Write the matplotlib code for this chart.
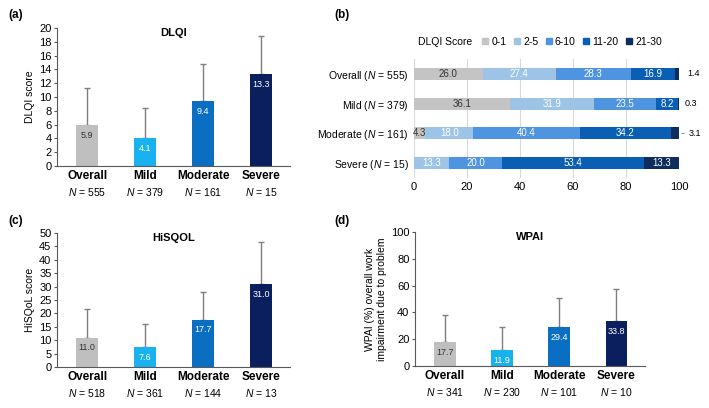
import matplotlib
matplotlib.use('Agg')
import matplotlib.pyplot as plt
from matplotlib.lines import Line2D
import numpy as np

plt.rcParams['font.family'] = ['Liberation Sans', 'DejaVu Sans']
plt.rcParams['mathtext.fontset'] = 'custom'
plt.rcParams['mathtext.rm'] = 'Liberation Sans'
plt.rcParams['mathtext.it'] = 'Liberation Sans:italic'

# data
groups = ['Overall', 'Mild', 'Moderate', 'Severe']
group_colors = ['#bfbfbf', '#19b2f0', '#0a6fc2', '#0b1f5e']

dlqi_mean = [5.9, 4.1, 9.4, 13.3]
dlqi_sd = [5.4, 4.3, 5.4, 5.5]
dlqi_n = [555, 379, 161, 15]

hisqol_mean = [11.0, 7.6, 17.7, 31.0]
hisqol_sd = [10.6, 8.4, 10.1, 15.5]
hisqol_n = [518, 361, 144, 13]

wpai_mean = [17.7, 11.9, 29.4, 33.8]
wpai_sd = [20.3, 17.1, 21.6, 23.4]
wpai_n = [341, 230, 101, 10]

score_bins = ['0-1', '2-5', '6-10', '11-20', '21-30']
bin_colors = ['#c4c4c4', '#9dc3e6', '#4f94e0', '#0a5fb4', '#0d2d5e']
dist_n = [555, 379, 161, 15]
dist = {
    '0-1': [26.0, 36.1, 4.3, 0.0],
    '2-5': [27.4, 31.9, 18.0, 13.3],
    '6-10': [28.3, 23.5, 40.4, 20.0],
    '11-20': [16.9, 8.2, 34.2, 53.4],
    '21-30': [1.4, 0.3, 3.1, 13.3],
}

W, H = 709, 408
fig = plt.figure(figsize=(W / 100, H / 100), dpi=100)


def px_axes(x0, y0, x1, y1):
    # pixel box -> figure axes
    return fig.add_axes([x0 / W, 1 - y1 / H, (x1 - x0) / W, (y1 - y0) / H])


def bar_panel(ax, means, sds, ns, ymax, step, title, ylabel):
    x = np.arange(len(groups))
    ax.bar(x, means, width=0.38, color=group_colors, zorder=2)
    ax.errorbar(x, means, yerr=[np.zeros(len(sds)), sds], fmt='none',
                ecolor='#7f7f7f', elinewidth=1, capsize=2.5, capthick=1, zorder=1)
    for i, m in enumerate(means):
        ax.annotate(f'{m:.1f}', (x[i], m), xytext=(0, -7.5), textcoords='offset points',
                    ha='center', va='center', fontsize=6.5,
                    color='#333333' if i == 0 else 'white', zorder=3)
    ax.set_xlim(-0.52, 3.5)
    ax.set_ylim(0, ymax)
    ax.set_yticks(np.arange(0, ymax + 0.01, step))
    ax.set_xticks(x)
    ax.set_xticklabels(groups, fontsize=8.5, fontweight='bold')
    ax.tick_params(axis='x', length=0, pad=3)
    ax.tick_params(axis='y', length=2.5, labelsize=8, color='#595959', pad=1.5)
    for i, n in enumerate(ns):
        ax.annotate(f'$N$ = {n}', (x[i], 0), xytext=(0, -18.5), textcoords='offset points',
                    ha='center', va='center', fontsize=7.5, annotation_clip=False)
    for s in ['top', 'right']:
        ax.spines[s].set_visible(False)
    for s in ['left', 'bottom']:
        ax.spines[s].set_color('#595959')
    ax.set_ylabel(ylabel, fontsize=7.5, labelpad=3)
    ax.text(0.5, 0.965, title, transform=ax.transAxes, ha='center', va='center',
            fontsize=8, fontweight='bold')


ax_a = px_axes(57, 28, 290, 166)
bar_panel(ax_a, dlqi_mean, dlqi_sd, dlqi_n, 20, 2, 'DLQI', 'DLQI score')

ax_c = px_axes(57, 233, 290, 367)
bar_panel(ax_c, hisqol_mean, hisqol_sd, hisqol_n, 50, 5, 'HiSQOL', 'HiSQoL score')

ax_d = px_axes(415, 232, 645, 366)
bar_panel(ax_d, wpai_mean, wpai_sd, wpai_n, 100, 20, 'WPAI',
          'WPAI (%) overall work\nimpairment due to problem')

# panel (b): stacked horizontal bars
ax_b = px_axes(414, 59, 679, 178)
rows = np.arange(len(groups))
left = np.zeros(len(groups))
for b, c in zip(score_bins, bin_colors):
    vals = np.array(dist[b])
    ax_b.barh(rows, vals, left=left, height=0.4, color=c, zorder=2)
    for i, v in enumerate(vals):
        if v >= 4:
            ax_b.text(left[i] + v / 2, rows[i], f'{v:.1f}', ha='center', va='center',
                      fontsize=7, color='#333333' if b == '0-1' else 'white', zorder=3)
    left += vals

for i, v in enumerate(dist['21-30']):
    if v < 4:
        if v > 2:
            ax_b.annotate(f'{v:.1f}', (100, rows[i]), xytext=(7, 0), textcoords='offset points',
                          ha='left', va='center', fontsize=6.5,
                          arrowprops=dict(arrowstyle='-', color='#7f7f7f', lw=0.6,
                                          shrinkA=1, shrinkB=2))
        else:
            ax_b.annotate(f'{v:.1f}', (100, rows[i]), xytext=(4 + 2 * (v > 1), 0),
                          textcoords='offset points', ha='left', va='center', fontsize=6.5)

ax_b.set_ylim(3.5, -0.5)
ax_b.set_xlim(0, 100)
ax_b.set_xticks(np.arange(0, 101, 20))
ax_b.set_yticks(rows)
ax_b.set_yticklabels([f'{g} ($N$ = {n})' for g, n in zip(groups, dist_n)], fontsize=7.5)
ax_b.tick_params(length=0, labelsize=7.5)
ax_b.tick_params(axis='x', pad=3, labelsize=8)
ax_b.tick_params(axis='y', pad=4)
ax_b.grid(axis='x', color='#d9d9d9', lw=0.8, zorder=0)
for s in ax_b.spines.values():
    s.set_visible(False)

handles = [Line2D([], [], marker='s', ls='', color=c, markersize=5) for c in bin_colors]
fig.text(418 / W, 1 - 42 / H, 'DLQI Score', fontsize=7.5, va='center', ha='left')
fig.legend(handles, score_bins, loc='center left', bbox_to_anchor=(482 / W, 1 - 42 / H),
           ncol=5, frameon=False, fontsize=7.5, handlelength=0.6, handletextpad=0.3,
           columnspacing=0.7, borderpad=0, borderaxespad=0)

# panel letters
for lbl, xx, yy in [('(a)', 8, 15), ('(b)', 334, 15), ('(c)', 8, 221), ('(d)', 334, 221)]:
    fig.text(xx / W, 1 - yy / H, lbl, fontsize=8.5, fontweight='bold', va='center')

fig.savefig('out.png', dpi=100)
